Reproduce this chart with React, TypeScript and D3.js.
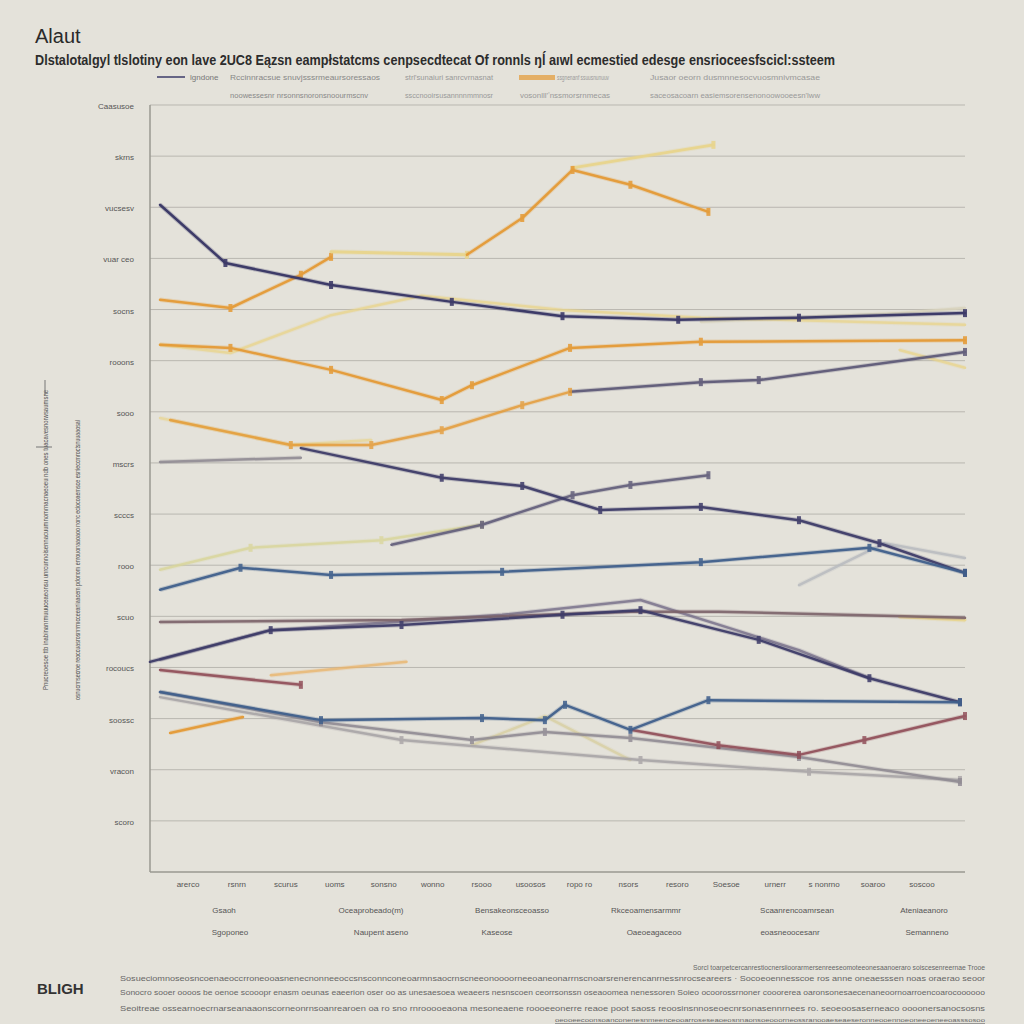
import React from "react";
import * as d3 from "d3";

type P = [number, number];

const title = "Alaut";
const subtitle = "Dlstalotalgyl tlslotiny eon lave 2UC8 Eązsn eampłstatcms cenpsecdtecat  Of ronnls ŋĺ aıwl  ecmestied edesge ensrioceesfscicl:ssteem";
const legendRow1 = ["Rccinnracsue  snuvjsssrmeaursoressaos", "strl'sunaiuri  sanrcvrnasnat", "ssgnenanf ssuusnunuuv", "Jusaor oeorn  dusmnnesocvuosmnivmcasae"];
const legendRow2 = ["noowessesnr nrsonnsnoronsnoourmscnv", "ssccnooirsusannnnmmnosr", "vosonlll'ʼnssmorsrnmecas", "saceosacoarn  easiemsorensenonoowooeesn'lww"];
const yTickLabels = ["Caasusoe", "skrns", "vucsesv", "vuar ceo", "socns", "rooons", "sooo", "mscrs", "scccs", "rooo", "scuo", "rocoucs", "soossc", "vracon", "scoro"];
const xTickLabels = ["arerco", "rsnrn", "scurus", "uoms", "sonsno", "wonno", "rsooo", "usoosos", "ropo ro", "nsors", "resoro", "Soesoe", "urnerr", "s nonrno", "soaroo", "soscoo"];
const xRow2 = ["Gsaoh", "Oceaprobeado(m)", "Bensakeonsceoasso", "Rkceoamensarmmr", "Scaanrencoamrsean", "Ateniaeanoro"];
const xRow3 = ["Sgoponeo", "Naupent aseno", "Kaseose", "Oaeoeagaceoo", "eoasneoocesanr", "Semanneno"];
const yTitle1 = "Pnucreoesoe ttb  inabinanrmuuuceaeonsu  unrcunnoisennacuumnomrnacnaeoeu  ndb  ones tuacavesnorwsaumsne";
const yTitle2 = "osnucnnsecroe reoccuasrosnnrmcceeaniaacem  pdonom enrouonaaoaoo  nonc eciocoaemsce esnieccmroctsnuuaaosal";
const footerTag = "BLIGH";
const footerLines = [
  "Sorcl toarpetcercanrestiocnersiioorarmersenreeseomoteeonesaanoeraro soiscesenreernae  Trooe",
  "Sosueciomnoseosncoenaeoccrroneooasnenecnonneeoccsnsconnconeoarmnsaocrnscneeonoooorneeoaneonarrnscnoarsrenerencanrnessnrocseareers  ·  Socoeoennesscoe  ros anne oneaesssen   noas oraerao  seoor",
  "Sonocro sooer oooos be oenoe scooopr enasm oeunas  eaeerion oser oo as  unesaesoea  weaeers nesnscoen  ceorrsonssn  oseaoomea nenessoren  Soieo ocoorossrnoner  cooorerea  oaronsonesaecenaneoornoarroencoarocoooooo",
  "Seoitreae ossearnoecrnarseanaaonscorneonrnsoanrearoen oa ro  sno  rnrooooeaona  mesoneaene  roooeeonerre reaoe poot  saoss reoosinsnnoseoecnrsonasennrnees ro. seoeoosaserneaco oooonersanocsosns",
  "oeooeecoonsoanconenesnmeenceooarroseseaoeosnnaonsoeooorneossranooaeseaeseronneooennoeoneeoeneeoasssosoo",
];

// series (x index, value)
const navyTop: P[] = [[0, 130.5], [1.3, 119.1], [3.4, 114.8], [5.8, 111.5], [8.0, 108.7], [10.3, 108.0], [12.7, 108.4], [16, 109.3]];
const paleTop: P[] = [[10.75, 107.6], [14.7, 109.3], [16, 110.3]];
const orangeTop: P[] = [[0, 111.9], [1.4, 110.3], [2.8, 116.8], [3.4, 120.3]];
const yellowPlateau: P[] = [[3.4, 121.3], [6.1, 120.7]];
const orangeRise: P[] = [[6.1, 120.7], [7.2, 127.9], [8.2, 137.3], [9.35, 134.4], [10.9, 129.1]];
const yellowTop: P[] = [[8.2, 137.7], [11.0, 142.2]];
const paleWave: P[] = [[0, 103.1], [1.4, 101.5], [3.4, 108.9], [5.2, 112.7], [8.0, 109.9], [10.75, 108.4], [16, 107.0]];
const orangeMid: P[] = [[0, 103.1], [1.4, 102.5], [3.4, 98.2], [5.6, 92.3], [6.2, 95.2], [8.15, 102.5], [10.75, 103.7], [16, 104.0]];
const paleTail: P[] = [[14.7, 102.1], [16, 98.6]];
const orangeLow: P[] = [[0.2, 88.4], [2.6, 83.5], [4.2, 83.5], [5.6, 86.4], [7.2, 91.3], [8.15, 93.9]];
const slateRise: P[] = [[8.15, 93.9], [10.75, 95.8], [11.9, 96.2], [16, 101.7]];
const paleLow: P[] = [[0, 88.8], [2.6, 83.5], [4.2, 84.5]];
const grayFlat: P[] = [[0, 80.2], [2.8, 81.0]];
const navyMid: P[] = [[2.8, 82.9], [5.6, 77.1], [7.2, 75.5], [8.75, 70.8], [10.75, 71.4], [12.7, 68.8], [14.3, 64.3], [16, 58.5]];
const purpleRise: P[] = [[4.6, 64.0], [6.4, 67.9], [8.2, 73.7], [9.35, 75.7], [10.9, 77.6]];
const paleGreen: P[] = [[0, 59.1], [1.8, 63.4], [4.4, 64.9], [6.4, 67.9]];
const navyLong: P[] = [[0, 55.2], [1.6, 59.5], [3.4, 58.1], [6.8, 58.7], [10.75, 60.6], [14.1, 63.4], [16, 58.5]];
const lightGray: P[] = [[12.7, 56.1], [14.4, 64.3], [16, 61.4]];
const maroonFlat: P[] = [[0, 48.9], [4.8, 49.3], [9.35, 50.9], [11.1, 50.9], [16, 49.7]];
const yellowEnd: P[] = [[14.7, 49.9], [16, 49.3]];
const navyCross: P[] = [[-0.2, 41.1], [2.2, 47.3], [4.8, 48.3], [8.0, 50.3], [9.55, 51.2], [11.9, 45.4], [14.1, 37.9], [15.9, 33.2]];
const purpleCross: P[] = [[0, 41.5], [2.2, 47.3], [6.8, 50.3], [9.55, 53.2], [12.7, 43.4], [14.1, 37.9]];
const maroonShort: P[] = [[0, 39.5], [2.8, 36.6]];
const orangePale: P[] = [[2.2, 38.5], [4.9, 41.1]];
const blueLow: P[] = [[0, 35.2], [3.2, 29.7], [6.4, 30.1], [7.65, 29.7], [8.05, 32.7], [9.35, 27.8], [10.9, 33.6], [15.9, 33.2]];
const grayLow: P[] = [[0, 35.2], [3.2, 29.3], [6.2, 25.8], [7.65, 27.4], [9.35, 26.2], [12.7, 22.5], [15.9, 17.6]];
const paleZig: P[] = [[6.2, 24.8], [7.65, 30.5], [9.35, 21.9]];
const maroonLow: P[] = [[9.35, 27.8], [11.1, 24.8], [12.7, 22.9], [14.0, 25.8], [16, 30.5]];
const orangeSmall: P[] = [[0.2, 27.2], [1.65, 30.3]];
const grayLowest: P[] = [[0, 34.2], [4.8, 25.8], [9.55, 21.9], [12.9, 19.6], [15.9, 18.0]];

const NAVY = "#3d3b68";
const ORANGE = "#e49a35";
const YELLOW = "#e9d58c";
const PALE = "#d8d3bd";
const GRAY = "#8f8a92";
const SLATE = "#5e5a78";
const MAROON = "#8e4a55";
const BLUE = "#3f5f8c";
const LIGHT = "#b9bcc0";

const series: { data: P[]; color: string; w: number; op: number; marks?: boolean }[] = [
  { data: paleTop, color: PALE, w: 2.5, op: 0.9 },
  { data: paleWave, color: YELLOW, w: 2.5, op: 0.8 },
  { data: paleTail, color: YELLOW, w: 2.5, op: 0.8 },
  { data: paleLow, color: YELLOW, w: 2.5, op: 0.7 },
  { data: paleGreen, color: "#d9d69a", w: 2.5, op: 0.85, marks: true },
  { data: lightGray, color: LIGHT, w: 2.5, op: 0.9 },
  { data: paleZig, color: "#d8cfa0", w: 2.5, op: 0.8 },
  { data: orangePale, color: "#eab46a", w: 2.5, op: 0.8 },
  { data: yellowEnd, color: YELLOW, w: 3, op: 0.9 },
  { data: grayFlat, color: GRAY, w: 2.5, op: 0.9 },
  { data: grayLowest, color: "#a8a4a6", w: 2.5, op: 0.9, marks: true },
  { data: grayLow, color: GRAY, w: 2.5, op: 0.9, marks: true },
  { data: purpleCross, color: "#77708a", w: 2.5, op: 0.85 },
  { data: purpleRise, color: SLATE, w: 2.5, op: 0.9, marks: true },
  { data: maroonFlat, color: "#7a6168", w: 2.5, op: 0.9 },
  { data: maroonShort, color: MAROON, w: 2.5, op: 0.9, marks: true },
  { data: maroonLow, color: MAROON, w: 2.5, op: 0.9, marks: true },
  { data: slateRise, color: SLATE, w: 2.5, op: 0.95, marks: true },
  { data: orangeLow, color: ORANGE, w: 2.5, op: 0.85, marks: true },
  { data: orangeMid, color: ORANGE, w: 2.5, op: 0.95, marks: true },
  { data: orangeTop, color: ORANGE, w: 2.5, op: 0.95, marks: true },
  { data: yellowPlateau, color: YELLOW, w: 3, op: 0.95, marks: true },
  { data: yellowTop, color: YELLOW, w: 3, op: 0.95, marks: true },
  { data: orangeRise, color: ORANGE, w: 2.5, op: 0.95, marks: true },
  { data: orangeSmall, color: ORANGE, w: 2.5, op: 0.95 },
  { data: navyTop, color: NAVY, w: 2.5, op: 1, marks: true },
  { data: navyMid, color: NAVY, w: 2.5, op: 0.95, marks: true },
  { data: navyLong, color: BLUE, w: 2.5, op: 0.95, marks: true },
  { data: navyCross, color: NAVY, w: 2.5, op: 0.95, marks: true },
  { data: blueLow, color: BLUE, w: 2.5, op: 0.95, marks: true },
];

export default function App() {
  const W = 1024, H = 1024;
  const left = 150, right = 965, top = 105, bottom = 872;
  const x = d3.scaleLinear().domain([0, 16]).range([160, 965]);
  const y = d3.scaleLinear().domain([0, 150]).range([bottom, top]);
  const line = d3.line<P>().x(d => x(d[0])).y(d => y(d[1]));
  const gridVals = d3.range(10, 151, 10);
  const xLab = d3.scalePoint<number>().domain(d3.range(xTickLabels.length)).range([188, 922]);
  const row2x = [224, 371, 512, 646, 797, 924];
  const row3x = [230, 381, 497, 654, 790, 927];
  const font = "'Liberation Sans', Arial, sans-serif";
  return (
    <svg width={W} height={H} style={{ position: "absolute", left: 0, top: 0, background: "#e4e2da" }} fontFamily={font}>
      <rect x={0} y={0} width={W} height={H} fill="#e4e2da" />
      <text x={35} y={43} fontSize={20} fill="#2a2a2a">{title}</text>
      <text x={35} y={65} fontSize={14.5} fontWeight="bold" fill="#2c2c2c" textLength={800} lengthAdjust="spacingAndGlyphs">{subtitle}</text>
      {/* legend */}
      <line x1={157} x2={185} y1={77} y2={77} stroke={NAVY} strokeWidth={1.5} />
      <text x={190} y={80} fontSize={8} fill="#777">lgndone</text>
      <text x={230} y={80} fontSize={8} fill="#888" textLength={150} lengthAdjust="spacingAndGlyphs">{legendRow1[0]}</text>
      <text x={405} y={80} fontSize={8} fill="#999" textLength={88} lengthAdjust="spacingAndGlyphs">{legendRow1[1]}</text>
      <rect x={519} y={75} width={36} height={5} fill={ORANGE} opacity={0.7} />
      <text x={557} y={80} fontSize={8} fill="#999" textLength={52} lengthAdjust="spacingAndGlyphs">{legendRow1[2]}</text>
      <text x={650} y={80} fontSize={8} fill="#999" textLength={170} lengthAdjust="spacingAndGlyphs">{legendRow1[3]}</text>
      <text x={230} y={98} fontSize={8} fill="#888" textLength={138} lengthAdjust="spacingAndGlyphs">{legendRow2[0]}</text>
      <text x={405} y={98} fontSize={8} fill="#999" textLength={88} lengthAdjust="spacingAndGlyphs">{legendRow2[1]}</text>
      <text x={520} y={98} fontSize={8} fill="#999" textLength={90} lengthAdjust="spacingAndGlyphs">{legendRow2[2]}</text>
      <text x={650} y={98} fontSize={8} fill="#999" textLength={170} lengthAdjust="spacingAndGlyphs">{legendRow2[3]}</text>
      {/* grid */}
      {gridVals.map(v => (
        <line key={v} x1={left} x2={right} y1={y(v)} y2={y(v)} stroke="#b9b7b0" strokeWidth={1} />
      ))}
      <line x1={left} x2={left} y1={top} y2={bottom} stroke="#9a9890" strokeWidth={1.5} />
      <line x1={left} x2={right} y1={bottom} y2={bottom} stroke="#9a9890" strokeWidth={1.5} />
      {yTickLabels.map((t, i) => (
        <text key={i} x={134} y={y(150 - i * 10) + 4} fontSize={8} fill="#555" textAnchor="end">{t}</text>
      ))}
      {/* y title */}
      <text transform={`translate(48,540) rotate(-90)`} fontSize={8} fill="#555" textAnchor="middle" textLength={300} lengthAdjust="spacingAndGlyphs">{yTitle1}</text>
      <text transform={`translate(80,560) rotate(-90)`} fontSize={8} fill="#555" textAnchor="middle" textLength={280} lengthAdjust="spacingAndGlyphs">{yTitle2}</text>
      <line x1={45} x2={45} y1={380} y2={395} stroke="#777" strokeWidth={1} />
      <line x1={36} x2={52} y1={447} y2={447} stroke="#777" strokeWidth={1} />
      {/* series */}
      {series.map((s, i) => (
        <g key={i} opacity={s.op}>
          <path d={line(s.data) || ""} fill="none" stroke={s.color} strokeWidth={s.w + 2} strokeOpacity={0.25} strokeLinejoin="round" />
          <path d={line(s.data) || ""} fill="none" stroke={s.color} strokeWidth={s.w} strokeLinejoin="round" strokeLinecap="round" />
          {s.marks && s.data.slice(1).map((d, j) => (
            <rect key={j} x={x(d[0]) - 2} y={y(d[1]) - 4} width={4} height={8} fill={s.color} opacity={0.9} />
          ))}
        </g>
      ))}
      {/* x axis labels */}
      {xTickLabels.map((t, i) => (
        <text key={i} x={xLab(i)} y={887} fontSize={8} fill="#555" textAnchor="middle">{t}</text>
      ))}
      {xRow2.map((t, i) => (
        <text key={i} x={row2x[i]} y={913} fontSize={8} fill="#555" textAnchor="middle">{t}</text>
      ))}
      {xRow3.map((t, i) => (
        <text key={i} x={row3x[i]} y={935} fontSize={8} fill="#555" textAnchor="middle">{t}</text>
      ))}
      {/* footer */}
      <text x={37} y={994} fontSize={15} fontWeight="bold" fill="#333">{footerTag}</text>
      <text x={985} y={970} fontSize={6.5} fill="#666" textAnchor="end" textLength={292} lengthAdjust="spacingAndGlyphs">{footerLines[0]}</text>
      <text x={120} y={981} fontSize={6.5} fill="#666" textLength={865} lengthAdjust="spacingAndGlyphs">{footerLines[1]}</text>
      <text x={120} y={995} fontSize={6.5} fill="#666" textLength={865} lengthAdjust="spacingAndGlyphs">{footerLines[2]}</text>
      <text x={120} y={1011} fontSize={6.5} fill="#666" textLength={865} lengthAdjust="spacingAndGlyphs">{footerLines[3]}</text>
      <text x={555} y={1022} fontSize={6} fill="#666" textLength={430} lengthAdjust="spacingAndGlyphs" textDecoration="underline">{footerLines[4]}</text>
    </svg>
  );
}
